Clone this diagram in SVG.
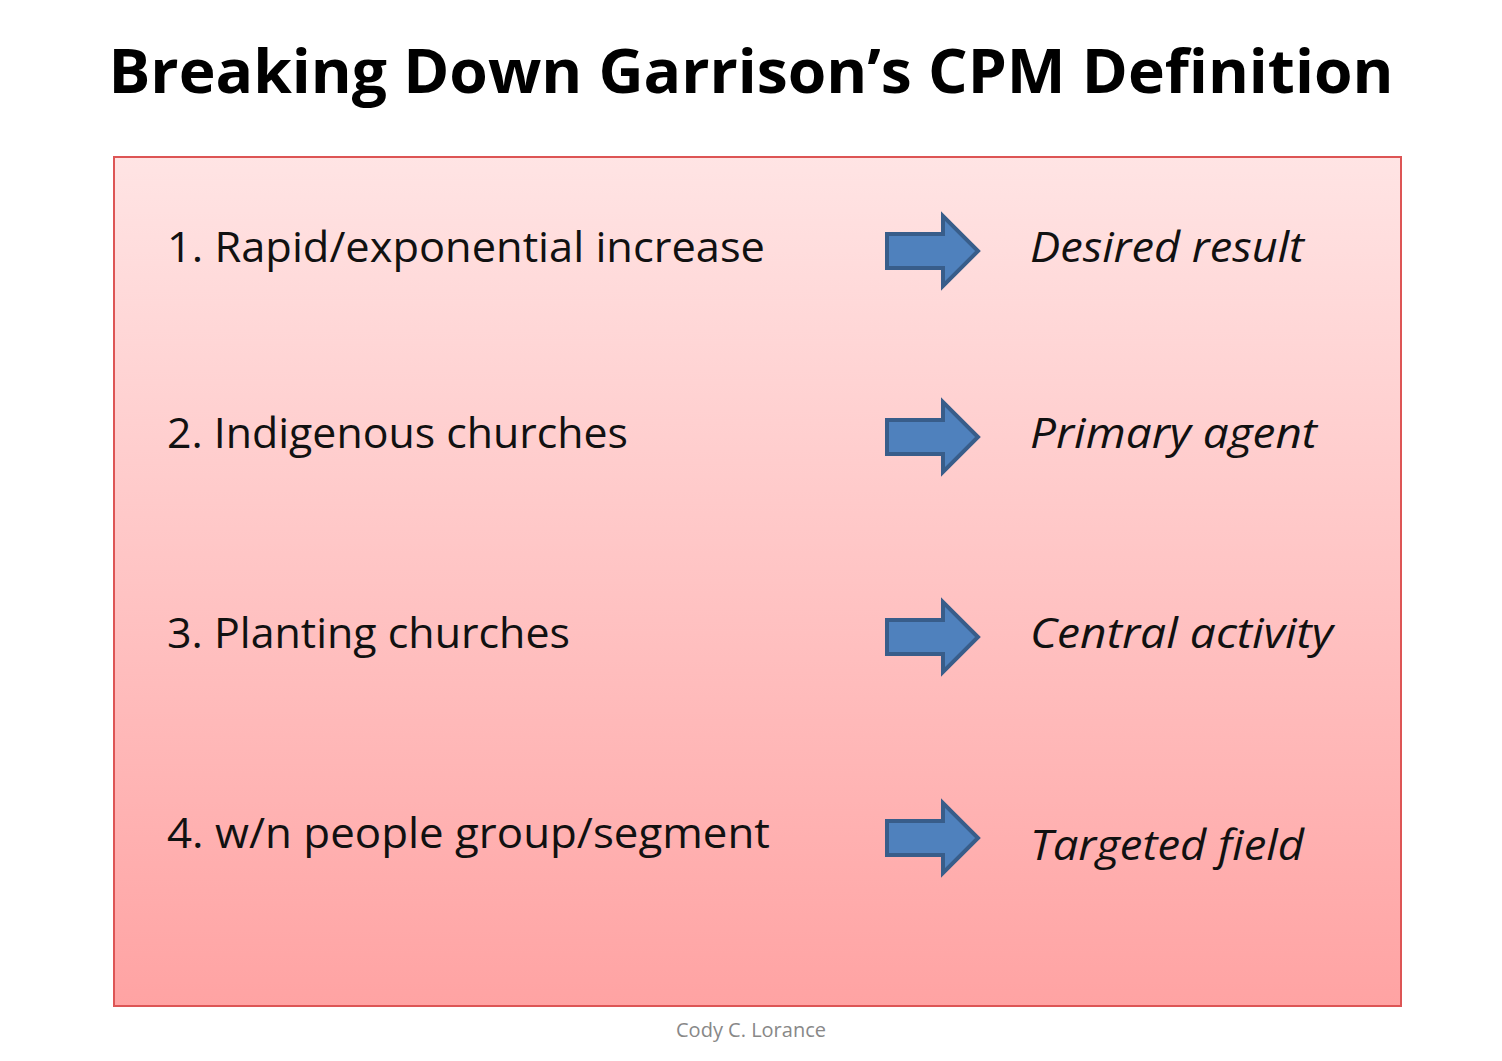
<svg xmlns="http://www.w3.org/2000/svg" width="1502" height="1061" viewBox="0 0 1502 1061">
<defs>
<linearGradient id="bg" x1="0" y1="0" x2="0" y2="1">
<stop offset="0" stop-color="#ffe4e4"/><stop offset="0.5" stop-color="#ffc4c4"/><stop offset="1" stop-color="#ffa3a3"/>
</linearGradient>
<path id="arr" d="M887,-17 H943 V-35 L978,0 L943,35 V17 H887 Z"/>
</defs>
<style>
.t{font-family:"Open Sans","Liberation Sans",sans-serif;font-size:42px;fill:#111}
.i{font-style:italic}
.a{fill:#4f81bd;stroke:#385d8a;stroke-width:4}
</style>
<rect width="1502" height="1061" fill="#fff"/>
<text x="751" y="93" text-anchor="middle" font-family="'Open Sans','Liberation Sans',sans-serif" font-weight="bold" font-size="60" textLength="1285" lengthAdjust="spacingAndGlyphs">Breaking Down Garrison’s CPM Definition</text>
<g id="box"><rect x="114" y="157" width="1287" height="849" fill="url(#bg)" stroke="#d55" stroke-width="2"/></g>
<g id="connectors">
<use href="#arr" class="a" transform="translate(0,251)"/>
<use href="#arr" class="a" transform="translate(0,437)"/>
<use href="#arr" class="a" transform="translate(0,637)"/>
<use href="#arr" class="a" transform="translate(0,838)"/>
</g>
<g id="n1"><text class="t" x="167" y="262" textLength="598" lengthAdjust="spacingAndGlyphs">1. Rapid/exponential increase</text><text class="t i" x="1030" y="262" textLength="274" lengthAdjust="spacingAndGlyphs">Desired result</text></g>
<g id="n2"><text class="t" x="167" y="448" textLength="461" lengthAdjust="spacingAndGlyphs">2. Indigenous churches</text><text class="t i" x="1030" y="448" textLength="287" lengthAdjust="spacingAndGlyphs">Primary agent</text></g>
<g id="n3"><text class="t" x="167" y="648" textLength="403" lengthAdjust="spacingAndGlyphs">3. Planting churches</text><text class="t i" x="1030" y="648" textLength="303" lengthAdjust="spacingAndGlyphs">Central activity</text></g>
<g id="n4"><text class="t" x="167" y="848" textLength="603" lengthAdjust="spacingAndGlyphs">4. w/n people group/segment</text><text class="t i" x="1030" y="860" textLength="274" lengthAdjust="spacingAndGlyphs">Targeted field</text></g>
<text x="751" y="1037" text-anchor="middle" font-family="'Open Sans','Liberation Sans',sans-serif" font-size="20" fill="#888">Cody C. Lorance</text>
</svg>
